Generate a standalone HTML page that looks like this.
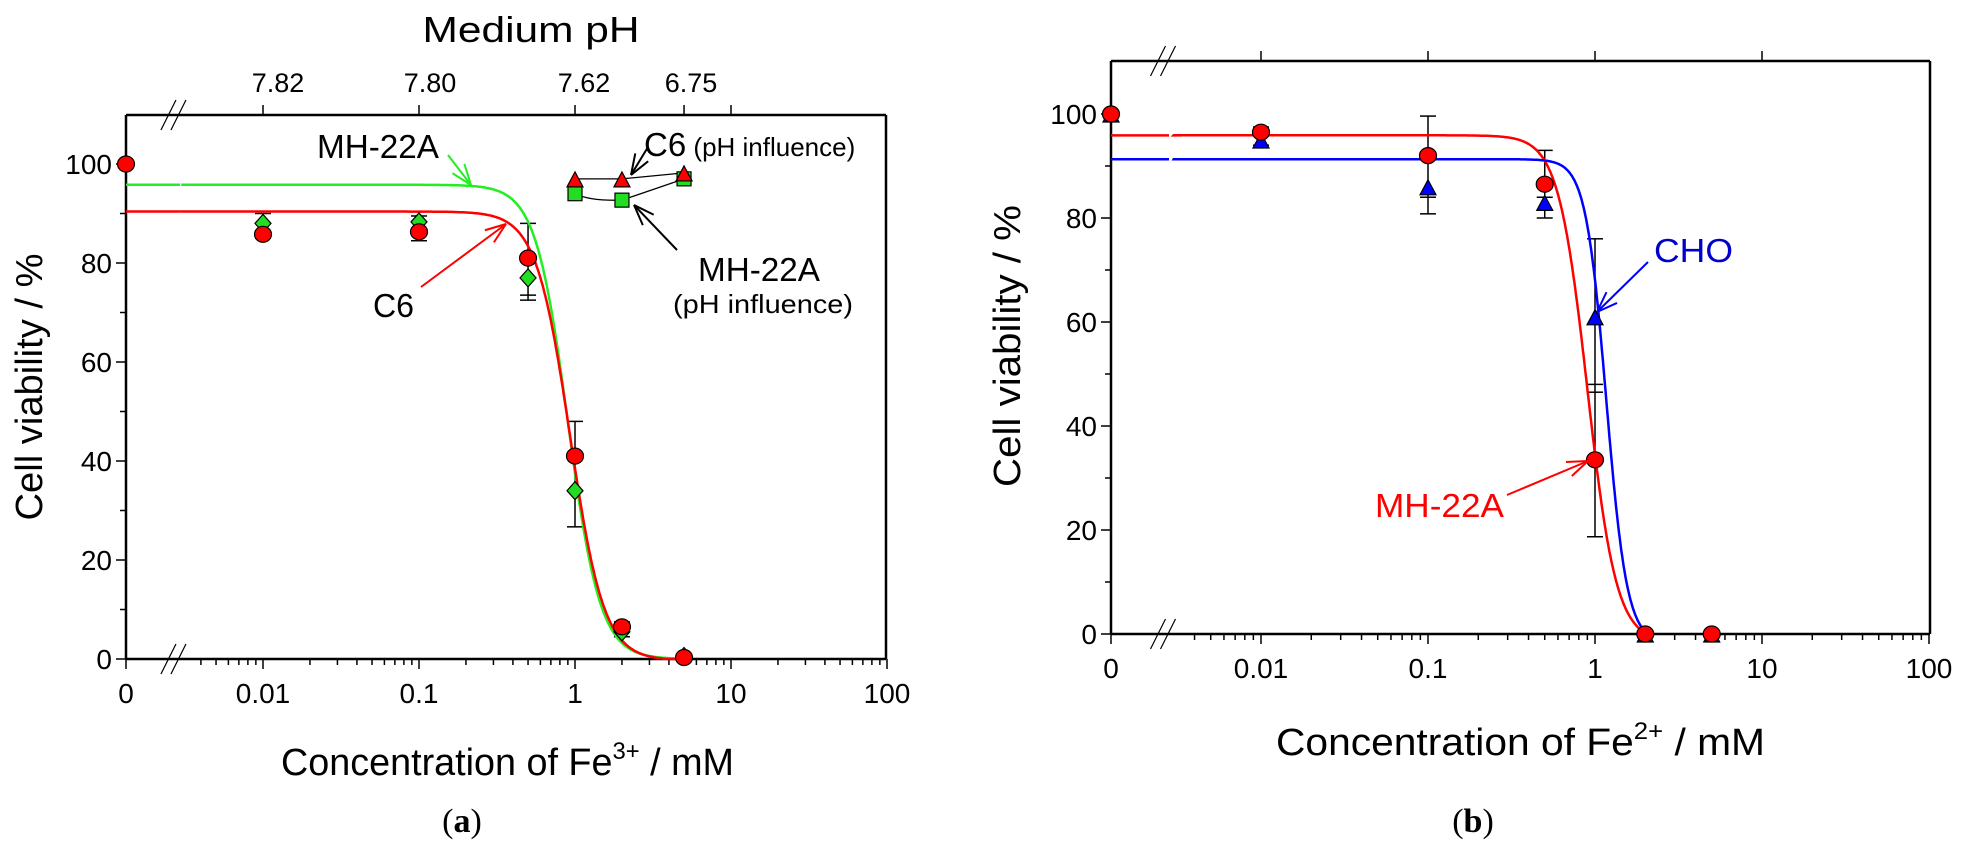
<!DOCTYPE html>
<html><head><meta charset="utf-8"><style>
html,body{margin:0;padding:0;background:#fff;}
svg{display:block;font-family:"Liberation Sans",Arial,sans-serif;}
</style></head><body>
<svg id="s" width="1964" height="850" viewBox="0 0 1964 850" xmlns="http://www.w3.org/2000/svg">
<rect width="1964" height="850" fill="#fff"/>
<g id="g"></g>
<text x="531" y="42" font-size="36" text-anchor="middle" textLength="217" lengthAdjust="spacingAndGlyphs">Medium pH</text>
<g font-size="27" text-anchor="middle">
<text x="278" y="92">7.82</text><text x="430" y="92">7.80</text><text x="584" y="92">7.62</text><text x="691" y="92">6.75</text>
</g>
<text x="317" y="158" font-size="33" textLength="122" lengthAdjust="spacingAndGlyphs">MH-22A</text>
<text x="373" y="317" font-size="33" textLength="41" lengthAdjust="spacingAndGlyphs">C6</text>
<text x="644" y="156" font-size="33">C6<tspan font-size="26"> (pH influence)</tspan></text>
<text x="698" y="281" font-size="33" textLength="122" lengthAdjust="spacingAndGlyphs">MH-22A</text>
<text x="673" y="313" font-size="26" textLength="180" lengthAdjust="spacingAndGlyphs">(pH influence)</text>
<text transform="translate(42,387) rotate(-90)" font-size="38" text-anchor="middle" textLength="267" lengthAdjust="spacingAndGlyphs">Cell viability / %</text>
<text x="281" y="775" font-size="38" textLength="453" lengthAdjust="spacingAndGlyphs">Concentration of Fe<tspan font-size="24" dy="-16">3+</tspan><tspan dy="16"> / mM</tspan></text>
<text x="462" y="832" font-size="34" text-anchor="middle" font-family="Liberation Serif,serif">(<tspan font-weight="bold">a</tspan>)</text>
<text transform="translate(1020,346) rotate(-90)" font-size="38" text-anchor="middle" textLength="282" lengthAdjust="spacingAndGlyphs">Cell viability / %</text>
<text x="1276" y="755" font-size="38" textLength="489" lengthAdjust="spacingAndGlyphs">Concentration of Fe<tspan font-size="24" dy="-16">2+</tspan><tspan dy="16"> / mM</tspan></text>
<text x="1473" y="832" font-size="34" text-anchor="middle" font-family="Liberation Serif,serif">(<tspan font-weight="bold">b</tspan>)</text>
<text x="1654" y="262" font-size="33" fill="#0000cc" textLength="79" lengthAdjust="spacingAndGlyphs">CHO</text>
<text x="1375" y="517" font-size="33" fill="#ff0000" textLength="129" lengthAdjust="spacingAndGlyphs">MH-22A</text>
</svg>
<script>
const g=document.getElementById('g');let h='';
function L(x1,y1,x2,y2,c,w){h+=`<line x1="${x1}" y1="${y1}" x2="${x2}" y2="${y2}" stroke="${c||'#000'}" stroke-width="${w||1.5}"/>`;}
function T(x,y,t,a){h+=`<text x="${x}" y="${y}" font-size="28" text-anchor="${a||'middle'}">${t}</text>`;}
function arrow(x1,y1,x2,y2,c){L(x1,y1,x2,y2,c,2);const a=Math.atan2(y2-y1,x2-x1),l=22;
 for(const d of[-0.35,0.35]){L(x2,y2,x2-l*Math.cos(a+d),y2-l*Math.sin(a+d),c,2);} }
function panel(P){
 const {x0,x1,y0,y1,xd,dec,ys,top}=P;
 const X=v=>v===0?x0:xd+dec*Math.log10(v), Y=v=>y0-ys*v;
 L(x0,y0,x1,y0,'#000',2.5);L(x0,y1,x1,y1,'#000',2.5);L(x0,y0,x0,y1,'#000',2.5);L(x1,y0,x1,y1,'#000',2.5);
 const bx=x0+(X(0.01)-x0)*0.35;
 for(const yy of [y0,y1]){L(bx-13,yy+15,bx+2,yy-15,'#000',1.2);L(bx-3,yy+15,bx+12,yy-15,'#000',1.2);}
 for(let v=0;v<=100;v+=10){const y=Y(v);L(x0-(v%20?6:10),y,x0,y,'#000',1.5);if(v%20==0)T(x0-14,y+10,v,'end');}
 L(x0,y0,x0,y0+10);T(x0,y0+44,'0');
 for(let e=-2;e<=2;e++){const v=Math.pow(10,e);L(X(v),y0,X(v),y0+10);T(X(v),y0+44,String(v));
  if(e<2)for(let k=2;k<10;k++){const xx=X(k*v);L(xx,y0,xx,y0+6);}}
 for(let k=3;k<10;k++){const xx=X(k*0.001);if(xx>bx+14)L(xx,y0,xx,y0+6);}
 for(const v of top){L(X(v),y1,X(v),y1-10);}
 return {X,Y};
}
function curve(X,Y,f,c,x0,g1,g2,vend){
 let d=`M${x0},${Y(f(1e-4))}L${g1},${Y(f(1e-4))}M${g2},${Y(f(1e-4))}L${X(0.003)},${Y(f(0.003))}`;
 const le=Math.log10(vend);
 for(let lv=Math.log10(0.003);lv<=le+1e-9;lv+=0.005){const v=Math.pow(10,lv);d+=`L${X(v).toFixed(1)},${Y(Math.max(0,f(v))).toFixed(1)}`;}
 h+=`<path d="${d}" fill="none" stroke="${c}" stroke-width="2.5"/>`;
}
function eb(x,yt,yb){L(x,yt,x,yb);L(x-8,yt,x+8,yt);L(x-8,yb,x+8,yb);}
function circ(x,y){h+=`<ellipse cx="${x}" cy="${y}" rx="8.5" ry="8" fill="#ff0000" stroke="#000" stroke-width="1.2"/>`;}
function dia(x,y){h+=`<path d="M${x},${y-9}L${x+8},${y}L${x},${y+9}L${x-8},${y}Z" fill="#22dd22" stroke="#000" stroke-width="1.2"/>`;}
function tri(x,y,c){h+=`<path d="M${x},${y-9}L${x+8},${y+6}L${x-8},${y+6}Z" fill="${c}" stroke="#000" stroke-width="1.2"/>`;}
function sq(x,y){h+=`<rect x="${x-7}" y="${y-7}" width="14" height="14" fill="#22dd22" stroke="#000" stroke-width="1.2"/>`;}
let A=panel({x0:126,x1:886,y0:659,y1:115,xd:575,dec:156,ys:4.95,top:[0.01,0.1,1,5,10]});
{const {X,Y}=A;
 eb(X(0.01),Y(90),Y(85));eb(X(0.1),Y(89.5),Y(84.5));eb(X(0.5),Y(88),Y(72.5));L(X(0.5)-8,Y(73.5),X(0.5)+8,Y(73.5));
 eb(X(1),Y(48),Y(26.7));eb(X(2),Y(7.5),Y(4.5));
 curve(X,Y,v=>95.8/(1+Math.pow(v/0.9,4.2)),'#22ee22',126,180,191,5);
 curve(X,Y,v=>90.7/(1+Math.pow(v/0.93,4))-0.3,'#ff0000',126,180,191,5);
 dia(126,Y(100));circ(126,Y(100));
 dia(X(0.01),Y(88));circ(X(0.01),Y(85.8));dia(X(0.1),Y(88.3));circ(X(0.1),Y(86.3));
 dia(X(0.5),Y(77));circ(X(0.5),Y(81));dia(X(1),Y(34));circ(X(1),Y(41));
 dia(X(2),Y(5.5));circ(X(2),Y(6.5));dia(X(5),Y(0.5));circ(X(5),Y(0.3));
 h+=`<path d="M575,${Y(97)}L${X(2)},${Y(97)}L${X(5)},${Y(98.2)}" fill="none" stroke="#000" stroke-width="1.3"/>`;
 h+=`<path d="M575,${Y(94)}Q590,${Y(92.5)} ${X(2)},${Y(92.7)}L${X(5)},${Y(97)}" fill="none" stroke="#000" stroke-width="1.3"/>`;
 sq(575,Y(94));sq(X(2),Y(92.7));sq(X(5),Y(97));tri(575,Y(97)+2,'#ff0000');tri(X(2),Y(97)+2,'#ff0000');tri(X(5),Y(98.2)+2,'#ff0000');
 arrow(448,155,471,185,'#22ee22');arrow(421,287,506,224,'#ff0000');
 arrow(648,147,631,175,'#000');arrow(677,250,634,205,'#000');
}
let B=panel({x0:1111,x1:1930,y0:634,y1:61,xd:1595,dec:167,ys:5.2,top:[0.01,0.1,1,10]});
{const {X,Y}=B;
 eb(X(0.01),Y(97.5),Y(94));eb(X(0.1),Y(99.6),Y(80.8));L(X(0.1)-8,Y(84),X(0.1)+8,Y(84));
 eb(X(0.5),Y(93),Y(80));L(X(0.5)-8,Y(81.5),X(0.5)+8,Y(81.5));L(X(0.5)-8,Y(84),X(0.5)+8,Y(84));
 eb(X(1),Y(76),Y(18.7));L(X(1)-8,Y(48),X(1)+8,Y(48));L(X(1)-8,Y(46.5),X(1)+8,Y(46.5));
 curve(X,Y,v=>97.5/(1+Math.pow(v/0.9,5))-1.6,'#ff0000',1111,1169,1181,2.2);
 curve(X,Y,v=>93/(1+Math.pow(v/1.17,7))-1.7,'#0000ff',1111,1169,1181,2.2);
 tri(1111,Y(100)+2,'#0000ff');circ(1111,Y(100));
 tri(X(0.01),Y(95)+2,'#0000ff');circ(X(0.01),Y(96.5));
 tri(X(0.1),Y(86)+2,'#0000ff');circ(X(0.1),Y(92));
 tri(X(0.5),Y(83)+2,'#0000ff');circ(X(0.5),Y(86.5));
 tri(X(1),Y(61)+2,'#0000ff');circ(X(1),Y(33.5));
 tri(X(2),Y(0)+2,'#0000ff');circ(X(2),Y(0));tri(X(5),Y(0)+2,'#0000ff');circ(X(5),Y(0));
 arrow(1648,262,1597,312,'#0000ff');arrow(1507,495,1588,461,'#ff0000');
}
g.innerHTML=h;
</script>
</body></html>
